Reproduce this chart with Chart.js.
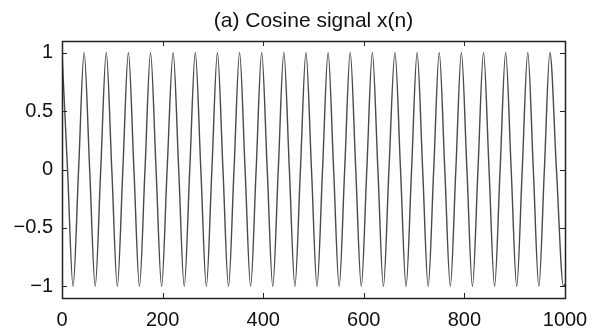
<!DOCTYPE html>
<html>
<head>
<meta charset="utf-8">
<script src="https://cdn.jsdelivr.net/npm/chart.js@4/dist/chart.umd.min.js"></script>
<style>
  html, body { margin: 0; padding: 0; background: #fff; }
  canvas { display: block; }
</style>
</head>
<body>
<canvas id="myChart" width="592" height="334"></canvas>
<script>
// sample index n at each peak / zero crossing / trough
var sampleN = [0, 11, 22, 33, 44, 55, 66, 77, 88, 99, 110, 121, 132, 143, 154, 165, 176, 187, 198, 209,
  221, 232, 243, 254, 265, 276, 287, 298, 309, 320, 331, 342, 353, 364, 375, 386, 397, 408, 419, 430,
  441, 452, 463, 474, 485, 496, 507, 518, 529, 540, 551, 562, 573, 584, 595, 606, 617, 628, 639, 650,
  662, 673, 684, 695, 706, 717, 728, 739, 750, 761, 772, 783, 794, 805, 816, 827, 838, 849, 860, 871,
  882, 893, 904, 915, 926, 937, 948, 959, 970, 983, 997, 1000];
var signalX = [1, 0, -1, 0, 1, 0, -1, 0, 1, 0, -1, 0, 1, 0, -1, 0, 1, 0, -1, 0,
  1, 0, -1, 0, 1, 0, -1, 0, 1, 0, -1, 0, 1, 0, -1, 0, 1, 0, -1, 0,
  1, 0, -1, 0, 1, 0, -1, 0, 1, 0, -1, 0, 1, 0, -1, 0, 1, 0, -1, 0,
  1, 0, -1, 0, 1, 0, -1, 0, 1, 0, -1, 0, 1, 0, -1, 0, 1, 0, -1, 0,
  1, 0, -1, 0, 1, 0, -1, 0, 1, 0, -1, -0.98];
var xTicks = [0, 200, 400, 600, 800, 1000];
var yTicks = [-1, -0.5, 0, 0.5, 1];
var titleText = '(a) Cosine signal x(n)';

var points = sampleN.map(function (n, i) { return { x: n, y: signalX[i] }; });

// box round the plot, inward ticks on all four sides, title centred over the plot
var frame = {
  id: 'frame',
  afterDraw: function (chart) {
    var c = chart.ctx, a = chart.chartArea;
    var sx = chart.scales.x, sy = chart.scales.y;
    var len = 5;
    c.save();
    c.strokeStyle = '#222';
    c.lineWidth = 1;
    c.beginPath();
    xTicks.forEach(function (v) {
      var px = Math.round(sx.getPixelForValue(v)) + 0.5;
      c.moveTo(px, a.bottom); c.lineTo(px, a.bottom - len);
      c.moveTo(px, a.top); c.lineTo(px, a.top + len);
    });
    yTicks.forEach(function (v) {
      var py = Math.round(sy.getPixelForValue(v)) + 0.5;
      c.moveTo(a.left, py); c.lineTo(a.left + len, py);
      c.moveTo(a.right, py); c.lineTo(a.right - len, py);
    });
    c.stroke();
    c.lineWidth = 1.5;
    c.strokeRect(Math.round(a.left) + 0.5, Math.round(a.top) + 0.5,
      Math.round(a.right - a.left), Math.round(a.bottom - a.top));

    c.fillStyle = '#111';
    c.font = '21px "Liberation Sans", Arial, sans-serif';
    c.textAlign = 'center';
    c.textBaseline = 'alphabetic';
    c.fillText(titleText, (a.left + a.right) / 2, 27);
    c.restore();
  }
};

var ctx = document.getElementById('myChart').getContext('2d');
var myChart = new Chart(ctx, {
  type: 'line',
  data: {
    datasets: [{
      data: points,
      borderColor: '#4a4a4a',
      borderWidth: 1.4,
      pointRadius: 0,
      fill: false,
      cubicInterpolationMode: 'monotone'
    }]
  },
  options: {
    responsive: false,
    animation: false,
    devicePixelRatio: 1,
    layout: { padding: { left: 0, right: 27, top: 41, bottom: 0 } },
    plugins: {
      legend: { display: false },
      tooltip: { enabled: false },
      title: { display: false }
    },
    scales: {
      x: {
        type: 'linear',
        min: 0,
        max: 1000,
        grid: { display: false, drawTicks: false },
        border: { display: false },
        afterBuildTicks: function (s) { s.ticks = xTicks.map(function (v) { return { value: v }; }); },
        afterFit: function (s) { s.height = 36; s.paddingRight = 0; },
        ticks: {
          padding: 10,
          maxRotation: 0,
          color: '#111',
          font: { family: 'Liberation Sans, Arial, sans-serif', size: 20 },
          callback: function (v) { return String(v); }
        }
      },
      y: {
        min: -1.1,
        max: 1.1,
        grid: { display: false, drawTicks: false },
        border: { display: false },
        afterBuildTicks: function (s) { s.ticks = yTicks.map(function (v) { return { value: v }; }); },
        afterFit: function (s) { s.width = 62; s.paddingTop = 0; s.paddingBottom = 0; },
        ticks: {
          padding: 9,
          color: '#111',
          font: { family: 'Liberation Sans, Arial, sans-serif', size: 20 },
          callback: function (v) { return String(v).replace('-', '\u2212'); }
        }
      }
    }
  },
  plugins: [frame]
});
</script>
</body>
</html>
